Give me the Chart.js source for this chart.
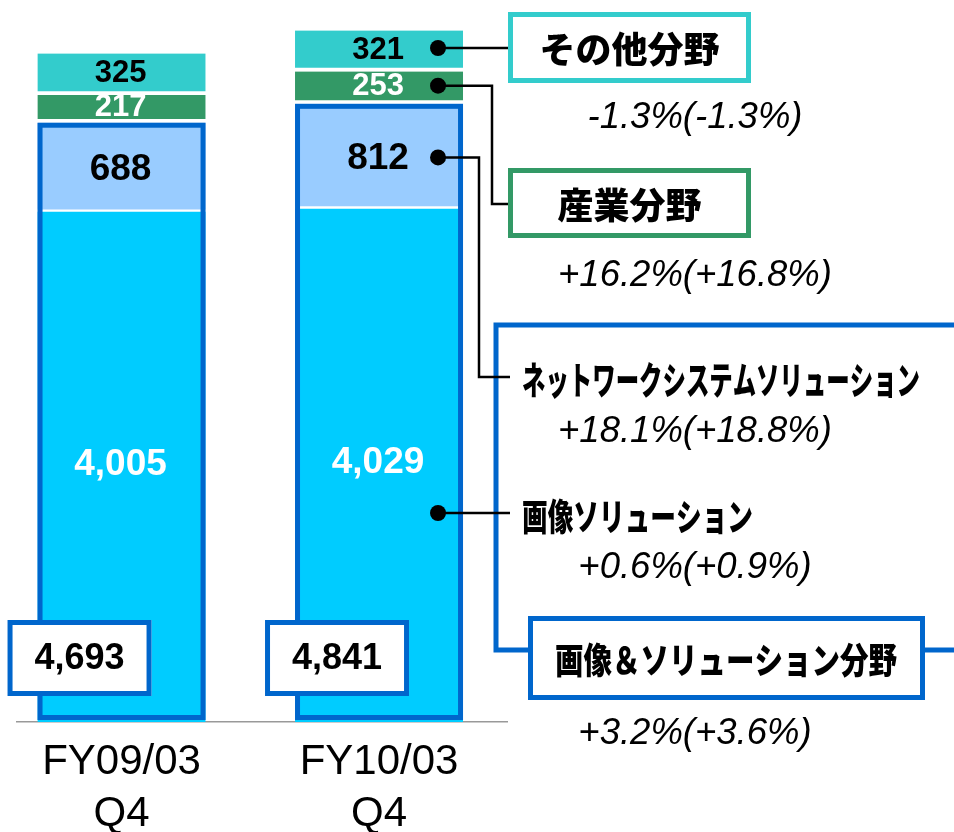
<!DOCTYPE html>
<html lang="ja">
<head>
<meta charset="utf-8">
<title>分野別売上高</title>
<script src="https://cdn.jsdelivr.net/npm/chart.js@4.4.1/dist/chart.umd.min.js"></script>
<style>
  html, body { margin: 0; padding: 0; background: #fff; }
  canvas { display: block; }
</style>
</head>
<body>
<canvas id="segmentChart" width="954" height="832"></canvas>
<script>
// 期間（横軸ラベル）
const periods = [['FY09/03', 'Q4'], ['FY10/03', 'Q4']];

// 分野別売上（下から積み上げ順）
const imageSolution   = [4005, 4029];
const networkSolution = [688, 812];
const industrial      = [217, 253];
const others          = [325, 321];

// 分野名と前年同期比
const segmentNames  = ['画像ソリューション', 'ネットワークシステムソリューション', '産業分野', 'その他分野'];
const segmentGrowth = ['+0.6%(+0.9%)', '+18.1%(+18.8%)', '+16.2%(+16.8%)', '-1.3%(-1.3%)'];
const groupName   = '画像＆ソリューション分野';
const groupGrowth = '+3.2%(+3.6%)';

/**
 * 色・フォント
 */
const COLORS = {
    cyan: '#00CCFF',
    lightBlue: '#99CCFF',
    green: '#339966',
    teal: '#33CCCC',
    frame: '#0066CC',
    axis: '#999999'
};
const NUM_FONT = '"Liberation Sans", Arial, sans-serif';
const JP_FONT = '"Noto Sans CJK JP", sans-serif';
const JP_BOLD = '900 36px ' + JP_FONT;
const PCT_FONT = 'italic 36.5px ' + NUM_FONT;

// データセットごとの白い隙間（上下の枠線幅）とラベルの見た目
const segStyles = [
    { color: COLORS.cyan,      border: { top: 1.5, bottom: 0 }, text: '#FFFFFF', size: 37 },
    { color: COLORS.lightBlue, border: { top: 0, bottom: 1.5 }, text: '#000000', size: 37 },
    { color: COLORS.green,     border: { top: 0, bottom: 4 },   text: '#FFFFFF', size: 31 },
    { color: COLORS.teal,      border: { top: 0, bottom: 4 },   text: '#000000', size: 31 }
];
const seriesValues = [imageSolution, networkSolution, industrial, others];

const fmt = v => v.toLocaleString('en-US');

function box(ctx, x, y, w, h, color) {
    ctx.save();
    ctx.fillStyle = '#FFFFFF';
    ctx.fillRect(x, y, w, h);
    ctx.strokeStyle = color;
    ctx.lineWidth = 5;
    ctx.strokeRect(x + 2.5, y + 2.5, w - 5, h - 5);
    ctx.restore();
}

function polyline(ctx, pts, color, width) {
    ctx.save();
    ctx.strokeStyle = color;
    ctx.lineWidth = width;
    ctx.lineJoin = 'miter';
    ctx.beginPath();
    pts.forEach((p, i) => (i ? ctx.lineTo(p[0], p[1]) : ctx.moveTo(p[0], p[1])));
    ctx.stroke();
    ctx.restore();
}

function text(ctx, str, x, y, font, color, align, maxWidth) {
    ctx.save();
    ctx.font = font;
    ctx.fillStyle = color;
    ctx.textAlign = align || 'center';
    ctx.textBaseline = 'middle';
    if (maxWidth) ctx.fillText(str, x, y, maxWidth);
    else ctx.fillText(str, x, y);
    ctx.restore();
}

function dot(ctx, x, y) {
    ctx.save();
    ctx.fillStyle = '#000';
    ctx.beginPath();
    ctx.arc(x, y, 8, 0, Math.PI * 2);
    ctx.fill();
    ctx.restore();
}

/**
 * 枠・数値ラベル・凡例の注記
 */
const decorPlugin = {
    id: 'segmentDecor',
    afterDatasetsDraw(chart) {
        const ctx = chart.ctx;
        const metas = seriesValues.map((_, d) => chart.getDatasetMeta(d));

        periods.forEach((p, i) => {
            const cyanEl = metas[0].data[i];
            const lbEl = metas[1].data[i];
            const left = cyanEl.x - cyanEl.width / 2;
            const w = cyanEl.width;

            // 画像＆ソリューション分野の青枠
            const fTop = lbEl.y;
            const fBottom = cyanEl.base - 2;
            ctx.save();
            ctx.strokeStyle = COLORS.frame;
            ctx.lineWidth = 5;
            ctx.strokeRect(left + 2.5, fTop + 2.5, w - 5, fBottom - fTop - 5);
            ctx.restore();

            // 各セグメントの数値
            metas.forEach((meta, d) => {
                const el = meta.data[i];
                const st = segStyles[d];
                let top = el.y + st.border.top;
                let bottom = el.base - st.border.bottom;
                if (d === 0) bottom = fBottom - 5;
                if (d === 1) top = fTop + 5;
                ctx.save();
                ctx.beginPath();
                ctx.rect(left, top, w, bottom - top);
                ctx.clip();
                text(ctx, fmt(seriesValues[d][i]), el.x - 1, (top + bottom) / 2 + 1,
                    'bold ' + st.size + 'px ' + NUM_FONT, st.text);
                ctx.restore();
            });

            // 合計ボックス
            const total = imageSolution[i] + networkSolution[i];
            const bx = left - 30;
            const by = cyanEl.base - 102;
            box(ctx, bx, by, 144, 76, COLORS.frame);
            text(ctx, fmt(total), bx + 72, by + 39, 'bold 36px ' + NUM_FONT, '#000');
        });

        // 右側の注記（最新期の棒から引き出す）
        const last = periods.length - 1;
        const el = d => metas[d].data[last];
        const dotX = el(0).x + el(0).width / 2 - 25;
        const mid = d => {
            const st = segStyles[d];
            return (el(d).y + st.border.top + el(d).base - st.border.bottom) / 2;
        };
        const yOther = mid(3) - 1;
        const yInd = mid(2);
        const yNet = (el(1).y + 5 + el(1).base - 1.5) / 2;
        const yImg = 513;

        // 青い括弧（画像＆ソリューション分野）
        polyline(ctx, [[954, 325], [496, 325], [496, 650], [530, 650]], COLORS.frame, 5);
        polyline(ctx, [[923, 650], [954, 650]], COLORS.frame, 5);
        box(ctx, 528, 616, 397, 84, COLORS.frame);
        text(ctx, groupName, 726, 660, JP_BOLD, '#000', 'center', 342);
        text(ctx, groupGrowth, 695, 734, PCT_FONT, '#000');

        // 引き出し線
        polyline(ctx, [[dotX, yOther], [510, yOther]], '#000', 2.5);
        polyline(ctx, [[dotX, yInd], [492, yInd], [492, 204], [510, 204]], '#000', 2.5);
        polyline(ctx, [[dotX, yNet], [479, yNet], [479, 377], [510, 377]], '#000', 2.5);
        polyline(ctx, [[dotX, yImg], [510, yImg]], '#000', 2.5);
        [yOther, yInd, yNet, yImg].forEach(y => dot(ctx, dotX, y));

        // その他分野
        box(ctx, 508, 12, 243, 71, COLORS.teal);
        text(ctx, segmentNames[3], 629.5, 49, JP_BOLD, '#000');
        text(ctx, segmentGrowth[3], 695, 118, PCT_FONT, '#000');

        // 産業分野
        box(ctx, 508, 168, 243, 70, COLORS.green);
        text(ctx, segmentNames[2], 629.5, 205, JP_BOLD, '#000');
        text(ctx, segmentGrowth[2], 695, 276, PCT_FONT, '#000');

        // ネットワークシステムソリューション
        text(ctx, segmentNames[1], 522, 380, '900 38px ' + JP_FONT, '#000', 'left', 398);
        text(ctx, segmentGrowth[1], 695, 432, PCT_FONT, '#000');

        // 画像ソリューション
        text(ctx, segmentNames[0], 522, 517, '900 37px ' + JP_FONT, '#000', 'left', 231);
        text(ctx, segmentGrowth[0], 695, 568, PCT_FONT, '#000');
    }
};

const datasets = seriesValues.map((values, d) => ({
    label: segmentNames[d],
    data: values.map((v, i) => ({ x: i, y: v })),
    backgroundColor: segStyles[d].color,
    borderColor: '#FFFFFF',
    borderWidth: { top: segStyles[d].border.top, bottom: segStyles[d].border.bottom, left: 0, right: 0 },
    borderSkipped: false,
    barThickness: 168
}));

new Chart(document.getElementById('segmentChart').getContext('2d'), {
    type: 'bar',
    data: { datasets },
    options: {
        responsive: false,
        animation: false,
        devicePixelRatio: 1,
        layout: { padding: { left: 17, right: 447, top: 0, bottom: 0 } },
        plugins: {
            legend: { display: false },
            tooltip: { enabled: false }
        },
        scales: {
            x: {
                type: 'linear',
                min: -0.406,
                max: 1.497,
                offset: false,
                stacked: true,
                z: 1,
                grid: { display: false, drawTicks: false, tickLength: 0 },
                border: { display: true, color: COLORS.axis, width: 1.5 },
                afterBuildTicks: axis => {
                    axis.ticks = periods.map((p, i) => ({ value: i }));
                },
                afterFit: axis => {
                    axis.height = 110;
                },
                ticks: {
                    color: '#000',
                    padding: 14,
                    maxRotation: 0,
                    autoSkip: false,
                    font: { family: NUM_FONT, size: 42, lineHeight: 1.24 },
                    callback: v => periods[v]
                }
            },
            y: {
                display: false,
                stacked: true,
                min: 0,
                max: 5654
            }
        }
    },
    plugins: [decorPlugin]
});
</script>
</body>
</html>
